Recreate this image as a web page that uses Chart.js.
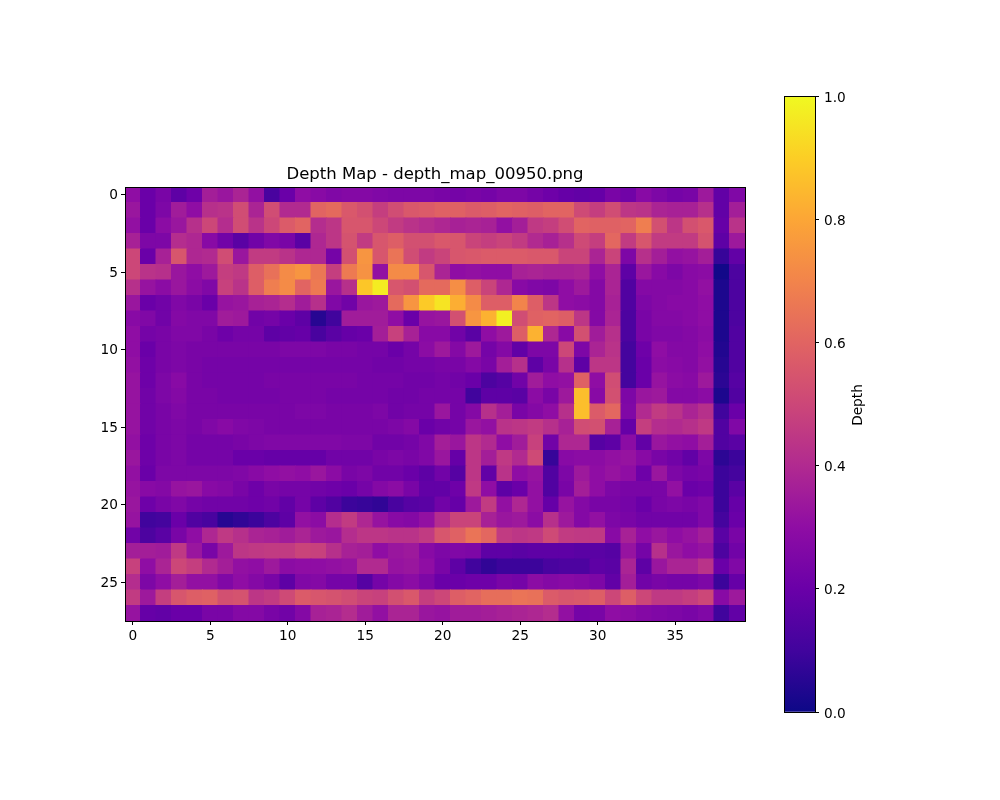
<!DOCTYPE html>
<html><head><meta charset="utf-8">
<script src="https://cdn.jsdelivr.net/npm/chart.js@4"></script>
<style>html,body{margin:0;background:#fff;width:1000px;height:800px;overflow:hidden}canvas{position:absolute;top:0}</style>
</head><body>
<canvas id="main" width="870" height="800" style="left:0"></canvas>
<canvas id="bar" width="200" height="800" style="left:750px"></canvas>
<script>
const chartTitle = "Depth Map - depth_map_00950.png";
const barLabel = "Depth";
const xTicks = [0,5,10,15,20,25,30,35];
const yTicks = [0,5,10,15,20,25];
const barTicks = [0,0.2,0.4,0.6,0.8,1];
const plasma = ["#0d0887","#41049d","#6a00a8","#8f0da4","#b12a90","#cc4778","#e16462","#f2844b","#fca636","#fcce25","#f0f921"];
const row00=[.30,.20,.24,.17,.21,.36,.33,.38,.31,.12,.20,.30,.28,.26,.27,.27,.26,.25,.25,.25,.24,.23,.24,.23,.25,.25,.23,.21,.19,.18,.19,.24,.22,.28,.25,.23,.24,.34,.18,.26];
const row01=[.33,.20,.25,.35,.30,.42,.43,.52,.38,.52,.40,.40,.60,.62,.56,.53,.47,.52,.56,.57,.59,.59,.57,.58,.60,.59,.58,.60,.60,.51,.47,.52,.44,.43,.38,.37,.37,.42,.18,.36];
const row02=[.31,.20,.29,.33,.42,.50,.41,.52,.43,.50,.57,.60,.41,.44,.55,.55,.50,.46,.43,.41,.39,.37,.38,.37,.31,.36,.45,.47,.52,.60,.59,.59,.60,.68,.53,.44,.53,.56,.19,.43];
const row03=[.37,.25,.25,.41,.39,.28,.22,.16,.22,.26,.24,.16,.39,.44,.54,.46,.55,.58,.53,.53,.56,.55,.49,.47,.49,.46,.40,.37,.42,.51,.47,.61,.46,.55,.46,.46,.46,.54,.17,.34];
const row04=[.50,.20,.37,.55,.39,.40,.52,.33,.46,.46,.43,.39,.39,.23,.53,.75,.55,.65,.52,.46,.49,.55,.56,.57,.57,.57,.56,.56,.49,.49,.38,.49,.25,.42,.36,.31,.32,.36,.08,.18];
const row05=[.50,.43,.42,.33,.30,.34,.47,.45,.58,.64,.72,.75,.66,.47,.67,.74,.31,.72,.72,.55,.38,.30,.31,.30,.30,.37,.38,.37,.37,.38,.30,.38,.17,.33,.28,.25,.28,.29,.01,.13];
const row06=[.42,.32,.29,.33,.29,.26,.48,.43,.58,.68,.72,.60,.67,.33,.42,.88,.97,.55,.53,.62,.62,.73,.58,.49,.39,.28,.26,.25,.30,.34,.27,.38,.14,.27,.27,.27,.28,.31,.03,.13];
const row07=[.33,.20,.22,.26,.24,.20,.32,.33,.37,.38,.41,.35,.42,.26,.22,.33,.34,.62,.75,.89,.95,.82,.72,.58,.58,.70,.58,.44,.30,.29,.27,.37,.14,.25,.27,.28,.28,.30,.03,.13];
const row08=[.28,.26,.22,.27,.26,.26,.35,.34,.22,.23,.20,.17,.05,.10,.35,.35,.35,.30,.20,.32,.33,.53,.75,.83,.98,.52,.59,.60,.58,.44,.27,.38,.13,.24,.27,.27,.28,.30,.03,.13];
const row09=[.30,.23,.24,.26,.26,.24,.21,.23,.23,.17,.18,.19,.12,.16,.19,.20,.36,.48,.37,.28,.28,.22,.16,.30,.34,.58,.83,.39,.28,.53,.35,.42,.13,.24,.26,.26,.27,.29,.03,.14];
const row10=[.30,.20,.24,.25,.24,.24,.24,.24,.24,.24,.25,.25,.25,.24,.24,.23,.23,.20,.23,.29,.34,.27,.34,.23,.27,.18,.25,.25,.50,.25,.38,.43,.11,.21,.30,.27,.27,.30,.04,.14];
const row11=[.31,.21,.24,.25,.24,.23,.23,.23,.23,.23,.23,.23,.23,.23,.23,.23,.22,.22,.23,.23,.24,.24,.27,.24,.36,.42,.17,.24,.42,.17,.44,.44,.11,.20,.29,.28,.27,.31,.05,.14];
const row12=[.32,.21,.25,.28,.24,.23,.23,.23,.23,.24,.24,.24,.24,.24,.24,.23,.23,.23,.22,.22,.23,.22,.20,.13,.15,.22,.35,.30,.31,.59,.30,.52,.11,.20,.32,.29,.28,.34,.06,.15];
const row13=[.32,.22,.25,.27,.24,.24,.23,.23,.23,.23,.24,.24,.24,.23,.23,.23,.23,.22,.22,.23,.23,.23,.10,.17,.17,.16,.29,.24,.34,.86,.28,.53,.25,.33,.34,.27,.27,.29,.03,.14];
const row14=[.32,.22,.24,.26,.24,.24,.24,.24,.24,.24,.24,.25,.25,.24,.24,.24,.25,.22,.23,.23,.33,.23,.27,.42,.36,.24,.27,.30,.42,.86,.57,.61,.26,.40,.46,.43,.38,.42,.10,.20];
const row15=[.32,.22,.24,.25,.24,.26,.28,.26,.25,.24,.24,.24,.24,.24,.24,.24,.24,.25,.27,.20,.22,.23,.33,.31,.43,.44,.46,.42,.37,.52,.53,.37,.19,.47,.41,.40,.42,.45,.14,.26];
const row16=[.31,.21,.24,.25,.23,.23,.23,.24,.25,.26,.26,.26,.26,.26,.25,.25,.22,.22,.23,.26,.36,.33,.44,.40,.30,.35,.48,.22,.39,.39,.15,.17,.29,.18,.33,.31,.30,.36,.14,.16];
const row17=[.33,.21,.24,.25,.23,.23,.23,.20,.20,.19,.19,.19,.19,.22,.22,.22,.24,.25,.24,.26,.33,.19,.44,.36,.45,.40,.51,.08,.28,.29,.29,.31,.32,.28,.24,.22,.18,.25,.06,.09];
const row18=[.31,.20,.25,.25,.25,.25,.25,.26,.28,.30,.31,.30,.33,.29,.24,.25,.22,.22,.20,.17,.22,.15,.44,.18,.43,.30,.32,.14,.25,.34,.30,.32,.30,.21,.33,.25,.23,.24,.09,.11];
const row19=[.32,.28,.27,.32,.33,.28,.27,.24,.21,.24,.23,.23,.22,.21,.20,.23,.27,.29,.24,.18,.18,.21,.45,.30,.17,.20,.31,.14,.24,.36,.30,.25,.24,.24,.24,.31,.20,.21,.09,.16];
const row20=[.33,.21,.24,.26,.23,.22,.22,.22,.21,.22,.18,.23,.17,.14,.09,.08,.07,.12,.15,.16,.22,.19,.34,.46,.31,.39,.31,.19,.32,.27,.24,.24,.23,.20,.24,.25,.24,.26,.09,.19];
const row21=[.32,.10,.11,.20,.14,.12,.05,.07,.09,.13,.17,.31,.29,.41,.46,.39,.32,.28,.27,.31,.41,.49,.49,.37,.33,.34,.29,.42,.34,.27,.31,.25,.24,.22,.22,.22,.22,.26,.11,.20];
const row22=[.22,.13,.16,.24,.30,.39,.45,.42,.38,.37,.35,.38,.34,.33,.41,.44,.44,.43,.43,.46,.55,.59,.65,.61,.46,.44,.45,.51,.46,.45,.45,.28,.37,.30,.33,.30,.32,.36,.16,.24];
const row23=[.36,.36,.35,.45,.33,.24,.34,.44,.45,.46,.46,.49,.48,.42,.37,.36,.30,.33,.34,.28,.25,.26,.25,.17,.17,.16,.17,.17,.17,.16,.16,.15,.32,.23,.42,.33,.30,.32,.13,.22];
const row24=[.48,.30,.38,.50,.47,.40,.36,.31,.30,.34,.29,.30,.30,.31,.32,.40,.40,.32,.33,.30,.24,.17,.10,.07,.09,.09,.09,.12,.13,.13,.17,.16,.38,.17,.33,.38,.38,.43,.20,.26];
const row25=[.41,.25,.30,.36,.31,.31,.26,.30,.27,.24,.17,.26,.27,.23,.23,.15,.23,.27,.29,.25,.20,.20,.21,.21,.24,.23,.29,.27,.28,.27,.25,.18,.36,.22,.24,.23,.23,.25,.09,.19];
const row26=[.46,.34,.47,.55,.58,.59,.53,.54,.44,.46,.51,.57,.55,.54,.52,.49,.48,.53,.56,.47,.50,.58,.60,.63,.63,.65,.64,.57,.55,.56,.58,.50,.58,.50,.45,.45,.47,.50,.28,.34];
const row27=[.32,.19,.18,.20,.20,.24,.24,.27,.27,.24,.22,.27,.37,.38,.41,.35,.31,.38,.38,.33,.32,.35,.35,.36,.37,.38,.39,.41,.31,.23,.24,.30,.29,.27,.26,.25,.24,.26,.10,.18];
const rows=[row00,row01,row02,row03,row04,row05,row06,row07,row08,row09,row10,row11,row12,row13,row14,row15,row16,row17,row18,row19,row20,row21,row22,row23,row24,row25,row26,row27];

const hex=h=>[1,3,5].map(i=>parseInt(h.substr(i,2),16));
function colorOf(v){
  const t=Math.min(Math.max(v,0),1)*(plasma.length-1), i=Math.min(Math.floor(t),plasma.length-2), f=t-i;
  const a=hex(plasma[i]), b=hex(plasma[i+1]);
  return `rgb(${a.map((c,k)=>Math.round(c+(b[k]-c)*f)).join(",")})`;
}
const cells=[];
rows.forEach((r,y)=>r.forEach((v,x)=>cells.push({x,y,v})));

Chart.defaults.font.family='"DejaVu Sans"';
Chart.defaults.color='#000';
Chart.defaults.animation=false;
const tickFont={size:13.7};
const fixed=(list)=>s=>{s.ticks=list.map(value=>({value}));};
// nudge native tick labels by a pixel to sit where the reference has them
function nudge(s,dy){
  if(s._nudged)return; s._nudged=true;
  const orig=s._computeLabelItems;
  s._computeLabelItems=function(a){const items=orig.call(this,a);items.forEach(it=>{it.options.translation[1]+=dy;});return items;};
}
const frame={id:'frame',afterDraw(c){const a=c.chartArea,x=c.ctx;x.save();x.strokeStyle='#000';x.lineWidth=1;
  x.strokeRect(Math.round(a.left)+.5,Math.round(a.top)+.5,Math.round(a.right-a.left),Math.round(a.bottom-a.top));x.restore();}};
const barTitle={id:'barTitle',afterDraw(c){const x=c.ctx;x.save();x.translate(108.5,405);x.rotate(-Math.PI/2);
  x.font='13.7px "DejaVu Sans"';x.fillStyle='#000';x.textAlign='center';x.textBaseline='middle';x.fillText(barLabel,0,0);x.restore();}};
const axisGrid={display:true,drawOnChartArea:false,drawTicks:true,tickLength:4,tickColor:'#000',tickWidth:1};

new Chart(document.getElementById('main'),{
  type:'scatter',
  data:{datasets:[{data:cells,
    pointStyle:'rect',
    borderWidth:0,
    backgroundColor:c=>colorOf(c.raw.v),
    pointRadius:c=>{const s=c.chart.scales.x;return (Math.abs(s.getPixelForValue(1)-s.getPixelForValue(0))/2+0.5)*Math.SQRT2;}
  }]},
  plugins:[frame],
  options:{responsive:false,events:[],
    layout:{padding:{left:0,right:0,top:165,bottom:149}},
    plugins:{legend:{display:false},tooltip:{enabled:false},
      title:{display:true,text:chartTitle,font:{size:16.5,weight:'normal'},color:'#000',padding:{top:0,bottom:2.2}}},
    scales:{
      x:{type:'linear',min:-0.5,max:39.5,afterBuildTicks:fixed(xTicks),afterFit:s=>{s.height=30;},
        grid:axisGrid,border:{display:false},ticks:{font:tickFont,padding:3,maxRotation:0,autoSkip:false}},
      y:{type:'linear',reverse:true,min:-0.5,max:27.5,afterBuildTicks:fixed(yTicks),afterFit:s=>{s.width=125;nudge(s,1);},
        grid:axisGrid,border:{display:false},ticks:{font:tickFont,padding:3,autoSkip:false}},
      spacer:{type:'linear',position:'right',afterFit:s=>{s.width=125;},
        grid:{display:false},border:{display:false},ticks:{display:false}}
    }
  }
});

new Chart(document.getElementById('bar'),{
  type:'bar',
  data:{labels:[barLabel],datasets:[{data:[1],barPercentage:1,categoryPercentage:1,borderWidth:0,
    backgroundColor:c=>{const a=c.chart.chartArea;if(!a)return plasma[5];
      const g=c.chart.ctx.createLinearGradient(0,a.bottom,0,a.top);
      plasma.forEach((h,i)=>g.addColorStop(i/(plasma.length-1),h));return g;}}]},
  plugins:[frame,barTitle],
  options:{responsive:false,events:[],
    layout:{padding:{left:34,right:85,top:96,bottom:88}},
    plugins:{legend:{display:false},tooltip:{enabled:false},title:{display:false}},
    scales:{
      x:{display:false},
      y:{position:'right',min:0,max:1,afterBuildTicks:fixed(barTicks),afterFit:s=>{s.width=50;nudge(s,2);},
        grid:axisGrid,border:{display:false},
        ticks:{font:tickFont,padding:5,autoSkip:false,callback:v=>Number(v).toFixed(1)}}
    }
  }
});
</script>
</body></html>
